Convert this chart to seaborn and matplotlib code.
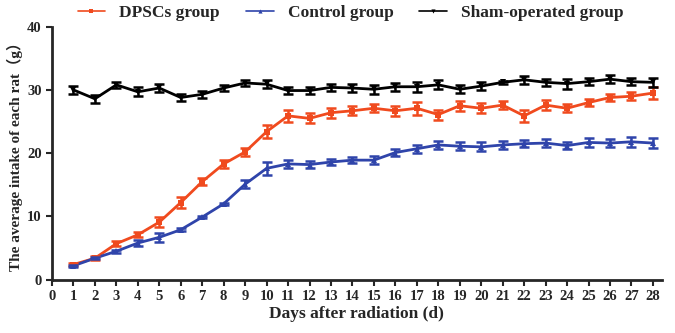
import numpy as np
import pandas as pd
import matplotlib
matplotlib.use("Agg")
import matplotlib.pyplot as plt
import seaborn as sns

sns.set_theme(style="ticks")
plt.rcParams["font.family"] = ["Liberation Serif", "Noto Sans CJK SC", "DejaVu Serif"]
plt.rcParams["font.weight"] = "bold"

days = list(range(1, 29))
dpscs = [2.4, 3.4, 5.7, 7.1, 9.1, 12.2, 15.5, 18.3, 20.2, 23.4, 25.9, 25.5, 26.4, 26.7,
         27.1, 26.7, 27.1, 26.1, 27.5, 27.1, 27.6, 25.9, 27.6, 27.1, 28.0, 28.8, 29.0, 29.5]
dpscs_err = [0.3, 0.3, 0.4, 0.4, 0.8, 0.9, 0.5, 0.6, 0.6, 1.0, 1.0, 0.8, 0.8, 0.7,
             0.6, 0.8, 1.0, 0.8, 0.8, 0.8, 0.6, 1.0, 0.8, 0.6, 0.6, 0.5, 0.6, 0.9]
control = [2.2, 3.4, 4.5, 5.8, 6.7, 7.9, 9.9, 12.0, 15.1, 17.6, 18.3, 18.2, 18.6, 18.9,
           18.9, 20.1, 20.7, 21.3, 21.1, 21.0, 21.3, 21.5, 21.6, 21.2, 21.7, 21.6, 21.8, 21.6]
control_err = [0.2, 0.2, 0.2, 0.5, 0.7, 0.2, 0.2, 0.2, 0.6, 1.0, 0.6, 0.5, 0.5, 0.5,
               0.6, 0.6, 0.6, 0.6, 0.6, 0.7, 0.6, 0.6, 0.6, 0.6, 0.7, 0.7, 0.8, 0.8]
sham = [30.0, 28.6, 30.8, 29.7, 30.3, 28.8, 29.3, 30.3, 31.1, 30.9, 29.9, 29.9, 30.4, 30.3,
        30.1, 30.5, 30.5, 30.8, 30.1, 30.6, 31.2, 31.6, 31.2, 31.0, 31.3, 31.7, 31.3, 31.2]
sham_err = [0.6, 0.6, 0.5, 0.7, 0.7, 0.6, 0.6, 0.5, 0.5, 0.6, 0.5, 0.5, 0.6, 0.7,
            0.7, 0.6, 0.8, 0.7, 0.6, 0.6, 0.2, 0.6, 0.6, 0.8, 0.6, 0.6, 0.6, 0.7]

groups = ["DPSCs group", "Control group", "Sham-operated group"]
colors = ["#f04a1e", "#2f44aa", "#000000"]
markers = ["s", "^", "v"]

df = pd.concat([
    pd.DataFrame({"day": days, "intake": v, "err": e, "group": g})
    for v, e, g in zip([dpscs, control, sham], [dpscs_err, control_err, sham_err], groups)
])

fig, ax = plt.subplots(figsize=(6.75, 3.33), dpi=100)
fig.subplots_adjust(left=0.077, right=0.98, top=0.92, bottom=0.16)

sns.lineplot(data=df, x="day", y="intake", hue="group", style="group",
             palette=colors, markers=markers, dashes=False, linewidth=2,
             markersize=5, markeredgewidth=0, ax=ax, legend=True)
for g, c in zip(groups, colors):
    sub = df[df.group == g]
    ax.errorbar(sub.day, sub.intake, yerr=sub.err, fmt="none", ecolor=c,
                elinewidth=1.8, capsize=3.5, capthick=1.8)

ax.set_xlim(0, 28.4)
ax.set_ylim(0, 40)
ax.set_xticks(range(0, 29))
ax.set_yticks([0, 10, 20, 30, 40])
ax.set_xlabel("Days after radiation (d)", fontsize=12.5, fontweight="bold", labelpad=2)
ax.set_ylabel("The average intake of each rat\uff08g\uff09", fontsize=11, fontweight="bold",
              labelpad=3)
ax.tick_params(axis="both", labelsize=10.5, width=1.5, length=4, direction="out")
for s in ["left", "bottom"]:
    ax.spines[s].set_linewidth(2)
sns.despine(ax=ax)

leg = ax.legend(loc="lower center", bbox_to_anchor=(0.49, 0.96), ncol=3, frameon=False,
                prop={"size": 12.5, "weight": "bold"}, handlelength=1.6, columnspacing=1.5)
for h in leg.legend_handles:
    h.set_markersize(3)
    h.set_linewidth(1.2)

fig.savefig("out.png", dpi=100)
